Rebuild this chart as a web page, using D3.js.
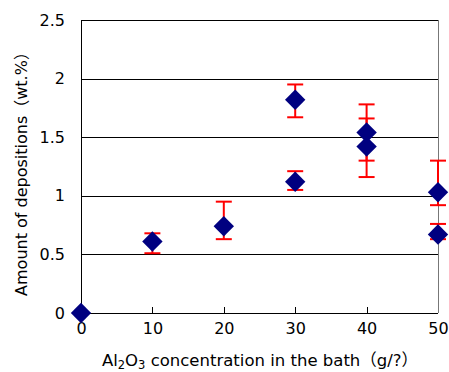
<!DOCTYPE html>
<html lang="en">
<head>
    <meta charset="UTF-8">
    <title>Amount of depositions</title>
    <script src="https://d3js.org/d3.v7.min.js"></script>
    <style>
        html, body {
            margin: 0;
            padding: 0;
            background: #fff;
            overflow: hidden;
        }
        text {
            font-family: "DejaVu Sans", "Noto Sans CJK JP", sans-serif;
            fill: #000;
        }
    </style>
</head>
<body>
    <script>
        // values
        const conc = [0, 10, 20, 30, 30, 40, 40, 50, 50];          // g/?
        const amount = [0, 0.61, 0.74, 1.82, 1.12, 1.54, 1.42, 1.03, 0.67]; // wt.%
        const errLow = [0, 0.51, 0.63, 1.67, 1.05, 1.30, 1.16, 0.92, 0.63];
        const errHigh = [0, 0.68, 0.95, 1.95, 1.21, 1.78, 1.66, 1.30, 0.76];
        const xTicks = [0, 10, 20, 30, 40, 50];
        const yTicks = [0, 0.5, 1, 1.5, 2, 2.5];

        const W = 449, H = 372;
        const plot = { left: 81, right: 438, top: 20, bottom: 313 };

        const svg = d3.select("body").append("svg")
            .attr("width", W)
            .attr("height", H);

        const x = d3.scaleLinear().domain([0, 50]).range([plot.left, plot.right]);
        const y = d3.scaleLinear().domain([0, 2.5]).range([plot.bottom, plot.top]);

        // gridlines + y labels
        const yAxis = svg.append("g")
            .attr("transform", `translate(${plot.left},0)`)
            .call(d3.axisLeft(y)
                .tickValues(yTicks)
                .tickSize(-(plot.right - plot.left))
                .tickPadding(16)
                .tickFormat(d => d));
        yAxis.select(".domain").remove();
        yAxis.selectAll(".tick line").attr("stroke", "#000").attr("shape-rendering", "crispEdges");
        yAxis.selectAll(".tick text").attr("font-size", 16);
        yAxis.attr("font-family", null);

        // x axis with inward ticks
        const xAxis = svg.append("g")
            .attr("transform", `translate(0,${plot.bottom})`)
            .call(d3.axisBottom(x)
                .tickValues(xTicks)
                .tickSize(-6)
                .tickPadding(10));
        xAxis.select(".domain").remove();
        xAxis.selectAll(".tick line").attr("stroke", "#000").attr("shape-rendering", "crispEdges");
        xAxis.selectAll(".tick text").attr("font-size", 16);
        xAxis.attr("font-family", null);

        // plot frame
        const frame = svg.append("g").attr("shape-rendering", "crispEdges");
        frame.append("line").attr("x1", plot.left).attr("x2", plot.left).attr("y1", plot.top).attr("y2", plot.bottom)
            .attr("stroke", "#000");
        frame.append("line").attr("x1", plot.left).attr("x2", plot.right).attr("y1", plot.bottom).attr("y2", plot.bottom)
            .attr("stroke", "#000");
        frame.append("line").attr("x1", plot.left).attr("x2", plot.right).attr("y1", plot.top).attr("y2", plot.top)
            .attr("stroke", "#000");
        frame.append("line").attr("x1", plot.right).attr("x2", plot.right).attr("y1", plot.top).attr("y2", plot.bottom)
            .attr("stroke", "#777");

        const idx = d3.range(conc.length).filter(i => errHigh[i] > errLow[i]);
        const capHalf = 8;

        // error bars
        const eb = svg.append("g").attr("stroke", "#ff0000").attr("stroke-width", 2);
        eb.selectAll(".stem").data(idx).join("line").attr("class", "stem")
            .attr("x1", i => x(conc[i])).attr("x2", i => x(conc[i]))
            .attr("y1", i => y(errLow[i])).attr("y2", i => y(errHigh[i]));
        eb.selectAll(".capL").data(idx).join("line").attr("class", "capL")
            .attr("x1", i => x(conc[i]) - capHalf).attr("x2", i => x(conc[i]) + capHalf)
            .attr("y1", i => y(errLow[i])).attr("y2", i => y(errLow[i]));
        eb.selectAll(".capH").data(idx).join("line").attr("class", "capH")
            .attr("x1", i => x(conc[i]) - capHalf).attr("x2", i => x(conc[i]) + capHalf)
            .attr("y1", i => y(errHigh[i])).attr("y2", i => y(errHigh[i]));

        // diamond markers
        const diamond = d3.symbol().type(d3.symbolDiamond2).size(265);
        svg.append("g").selectAll("path").data(d3.range(conc.length)).join("path")
            .attr("d", diamond)
            .attr("transform", i => `translate(${x(conc[i])},${y(amount[i])})`)
            .attr("fill", "#000080");

        // axis titles
        const xt = svg.append("text")
            .attr("x", 260).attr("y", 366)
            .attr("text-anchor", "middle")
            .attr("font-size", 16.5);
        xt.append("tspan").text("Al");
        xt.append("tspan").attr("font-size", 11.5).attr("dy", 3).text("2");
        xt.append("tspan").attr("dy", -3).text("O");
        xt.append("tspan").attr("font-size", 11.5).attr("dy", 3).text("3");
        xt.append("tspan").attr("dy", -3).text(" concentration in the bath（g/?）");

        svg.append("text")
            .attr("transform", "translate(27,170) rotate(-90)")
            .attr("text-anchor", "middle")
            .attr("font-size", 16)
            .text("Amount of depositions（wt.%）");
    </script>
</body>
</html>
